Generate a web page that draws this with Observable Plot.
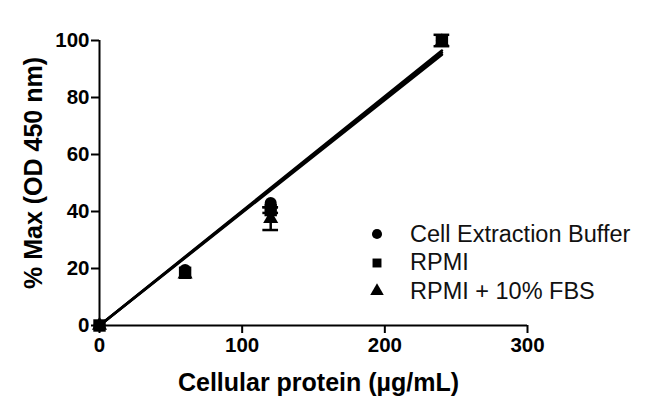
<!DOCTYPE html>
<html>
<head>
<meta charset="utf-8">
<script src="https://cdn.jsdelivr.net/npm/d3@7"></script>
<script src="https://cdn.jsdelivr.net/npm/@observablehq/plot@0.6"></script>
<style>
  body { margin: 0; background: white; }
  #wrap { position: relative; width: 650px; height: 416px; font-family: "Liberation Sans", Arial, sans-serif; }
  #legend { position: absolute; left: 366px; top: 220px; font-size: 23.5px; color: #111; }
  #legend .row { display: flex; align-items: center; height: 28.5px; }
  #legend svg { width: 22px; height: 22px; margin-right: 22px; }
</style>
</head>
<body>
<div id="wrap"><div id="legend"></div></div>
<script>
const conc = [0, 60, 120, 240];
const cellExtraction = [0, 19.5, 43, 100];
const rpmi = [0, 18.5, 40.5, 100];
const rpmiFbs = [0, 18, 37.5, 99.5];
const cellExtractionSem = [0, 0, 0, 0];
const rpmiSem = [0, 0, 1, 2];
const rpmiFbsSem = [0, 0, 4, 0];
const seriesNames = ["Cell Extraction Buffer", "RPMI", "RPMI + 10% FBS"];
const fitSlopes = [0.402, 0.399, 0.396];
const xTicks = [0, 100, 200, 300];
const yTicks = [0, 20, 40, 60, 80, 100];

const symbols = ["circle", "square", "triangle"];
const radii = [6, 7, 5.6];
const values = [cellExtraction, rpmi, rpmiFbs];
const sems = [cellExtractionSem, rpmiSem, rpmiFbsSem];

const rows = [];
seriesNames.forEach((s, i) => conc.forEach((c, j) => rows.push({series: s, si: i, x: c, y: values[i][j], e: sems[i][j]})));
const errRows = rows.filter(d => d.e > 0);

const xMax = d3.max(conc);
const fitRows = [];
seriesNames.forEach((s, i) => {
  fitRows.push({series: s, x: 0, y: 0});
  fitRows.push({series: s, x: xMax, y: fitSlopes[i] * xMax});
});

const font = "Liberation Sans, Arial, sans-serif";
const capHalf = 5.5;

const marks = [
  Plot.ruleY([0], {stroke: "black", strokeWidth: 2}),
  Plot.ruleX([0], {stroke: "black", strokeWidth: 2}),
  Plot.axisX({ticks: xTicks, tickSize: 8, tickPadding: 4, fontSize: 20.5, fontWeight: "bold", strokeWidth: 2, label: null, tickFormat: d3.format("d")}),
  Plot.axisY({ticks: yTicks, tickSize: 8, tickPadding: 2, fontSize: 20.5, fontWeight: "bold", strokeWidth: 2, label: null, tickFormat: d3.format("d")}),
  Plot.line(fitRows, {x: "x", y: "y", z: "series", stroke: "black", strokeWidth: 2.6}),
  Plot.ruleX(errRows, {x: "x", y1: d => d.y - d.e, y2: d => d.y + d.e, stroke: "black", strokeWidth: 2.5}),
  Plot.ruleY(errRows, {y: d => d.y - d.e, x1: d => d.x - capHalf, x2: d => d.x + capHalf, stroke: "black", strokeWidth: 2.5}),
  Plot.ruleY(errRows, {y: d => d.y + d.e, x1: d => d.x - capHalf, x2: d => d.x + capHalf, stroke: "black", strokeWidth: 2.5}),
  ...seriesNames.map((s, i) => Plot.dot(rows.filter(d => d.si === i), {x: "x", y: "y", symbol: () => symbols[i], fill: "black", r: radii[i]})),
  Plot.text(["Cellular protein (µg/mL)"], {frameAnchor: "bottom", textAnchor: "middle", lineAnchor: "middle", dy: 57, dx: 5, fontSize: 25, fontWeight: "bold", fill: "black"}),
  Plot.text(["% Max (OD 450 nm)"], {frameAnchor: "left", textAnchor: "middle", lineAnchor: "middle", dx: -66, dy: -10, rotate: -90, fontSize: 25, fontWeight: "bold", fill: "black"})
];

const chart = Plot.plot({
  width: 650,
  height: 416,
  marginLeft: 99,
  marginRight: 123,
  marginTop: 40,
  marginBottom: 91,
  style: {fontFamily: font, color: "black", background: "white", overflow: "visible"},
  x: {domain: [0, 300]},
  y: {domain: [0, 100]},
  symbol: {domain: symbols, range: symbols},
  marks
});
document.getElementById("wrap").prepend(chart);

// legend
const legend = d3.select("#legend");
seriesNames.forEach((s, i) => {
  const row = legend.append("div").attr("class", "row");
  const svg = row.append("svg").attr("viewBox", "-11 -11 22 22");
  svg.append("path").attr("d", d3.symbol(d3["symbol" + symbols[i][0].toUpperCase() + symbols[i].slice(1)], 80)()).attr("fill", "black");
  row.append("span").text(s);
});
</script>
</body>
</html>
